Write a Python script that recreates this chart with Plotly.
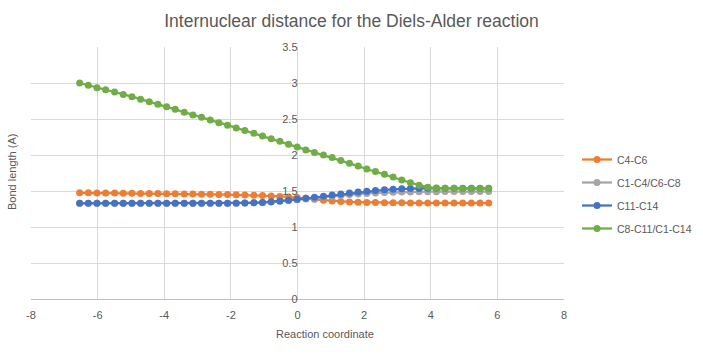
import plotly.graph_objects as go

reaction_coord = [-6.54, -6.28, -6.02, -5.76, -5.49, -5.23, -4.97, -4.71, -4.45, -4.19,
                  -3.93, -3.67, -3.40, -3.14, -2.88, -2.62, -2.36, -2.10, -1.84, -1.58,
                  -1.31, -1.05, -0.79, -0.53, -0.27, -0.01, 0.25, 0.51, 0.78, 1.04,
                  1.30, 1.56, 1.82, 2.08, 2.34, 2.61, 2.87, 3.13, 3.39, 3.65,
                  3.91, 4.17, 4.43, 4.70, 4.96, 5.22, 5.48, 5.74]

c4_c6 = [1.475, 1.474, 1.473, 1.472, 1.471, 1.470, 1.469, 1.467, 1.466, 1.465,
         1.463, 1.461, 1.460, 1.458, 1.456, 1.454, 1.452, 1.450, 1.447, 1.444,
         1.440, 1.436, 1.431, 1.425, 1.418, 1.410, 1.398, 1.385, 1.372, 1.362,
         1.354, 1.348, 1.344, 1.341, 1.339, 1.338, 1.337, 1.336, 1.335, 1.335,
         1.334, 1.334, 1.334, 1.333, 1.333, 1.333, 1.332, 1.332]

c1c4_c6c8 = [1.330, 1.330, 1.330, 1.330, 1.330, 1.330, 1.330, 1.330, 1.330, 1.330,
             1.330, 1.330, 1.330, 1.330, 1.330, 1.331, 1.331, 1.331, 1.332, 1.333,
             1.336, 1.340, 1.347, 1.356, 1.367, 1.379, 1.390, 1.402, 1.415, 1.427,
             1.439, 1.450, 1.459, 1.467, 1.473, 1.478, 1.482, 1.485, 1.487, 1.489,
             1.490, 1.491, 1.492, 1.492, 1.493, 1.493, 1.493, 1.493]

c11_c14 = [1.329, 1.329, 1.329, 1.329, 1.329, 1.329, 1.329, 1.329, 1.330, 1.330,
           1.330, 1.330, 1.330, 1.330, 1.330, 1.330, 1.331, 1.331, 1.331, 1.333,
           1.336, 1.342, 1.350, 1.360, 1.372, 1.385, 1.398, 1.412, 1.428, 1.443,
           1.458, 1.472, 1.485, 1.497, 1.508, 1.517, 1.524, 1.530, 1.534, 1.536,
           1.537, 1.538, 1.538, 1.538, 1.538, 1.538, 1.538, 1.538]

c8c11_c1c14 = [3.000, 2.970, 2.935, 2.905, 2.875, 2.840, 2.810, 2.775, 2.740, 2.705,
               2.670, 2.635, 2.595, 2.557, 2.523, 2.486, 2.449, 2.414, 2.376, 2.339,
               2.301, 2.264, 2.227, 2.190, 2.151, 2.110, 2.070, 2.035, 2.000, 1.965,
               1.922, 1.884, 1.846, 1.805, 1.770, 1.732, 1.695, 1.653, 1.615, 1.580,
               1.553, 1.540, 1.537, 1.537, 1.536, 1.536, 1.536, 1.536]

series_names = ["C4-C6", "C1-C4/C6-C8", "C11-C14", "C8-C11/C1-C14"]
series_values = [c4_c6, c1c4_c6c8, c11_c14, c8c11_c1c14]
series_colors = ["#ED7D31", "#A5A5A5", "#4472C4", "#70AD47"]

x_ticks = [-8, -6, -4, -2, 0, 2, 4, 6, 8]
x_tick_labels = ["-8", "-6", "-4", "-2", "0", "2", "4", "6", "8"]
y_ticks = [0, 0.5, 1, 1.5, 2, 2.5, 3, 3.5]
y_tick_labels = ["0", "0.5", "1", "1.5", "2", "2.5", "3", "3.5"]

FONT = "Liberation Sans"
TXT = "#595959"

fig = go.Figure()
for name, vals, col in zip(series_names, series_values, series_colors):
    fig.add_trace(go.Scatter(
        x=reaction_coord, y=vals, name=name, mode="lines+markers",
        line=dict(color=col, width=2.25),
        marker=dict(color=col, size=7, symbol="circle"),
        legendgroup=name,
    ))

W, H = 703, 354
ml, mr, mt, mb = 31, 139, 47, 55
pw = W - ml - mr
ph = H - mt - mb

fig.update_layout(
    width=W, height=H,
    margin=dict(l=ml, r=mr, t=mt, b=mb, autoexpand=False),
    paper_bgcolor="white", plot_bgcolor="white",
    font=dict(family=FONT, color=TXT, size=11),
    title=dict(text="Internuclear distance for the Diels-Alder reaction",
               x=0.5, xref="container", xanchor="center", y=1 - 21 / H, yanchor="middle",
               font=dict(family=FONT, size=17.5, color=TXT)),
    xaxis=dict(range=[-8, 8], tickvals=x_ticks, ticktext=x_tick_labels,
               showgrid=True, gridcolor="#D9D9D9",
               gridwidth=1, zeroline=False, showline=True, linecolor="#BFBFBF",
               ticks="", ticklabelstandoff=6, tickfont=dict(size=11, color=TXT), domain=[0, 1]),
    yaxis=dict(range=[0, 3.5], tickvals=y_ticks, ticktext=y_tick_labels,
               showgrid=True, gridcolor="#D9D9D9", gridwidth=1, zeroline=False,
               showline=False, ticks="", anchor="free", position=0.5,
               tickfont=dict(size=11, color=TXT)),
    legend=dict(x=(577 - ml) / pw, xanchor="left", y=1 - (145 - mt) / ph, yanchor="top",
                traceorder="grouped", tracegroupgap=4,
                font=dict(size=10.5, color=TXT), bgcolor="rgba(0,0,0,0)"),
    showlegend=True,
)

fig.add_annotation(text="Reaction coordinate", xref="paper", yref="paper",
                   x=(325 - ml) / pw, y=-(334 - mt - ph) / ph, showarrow=False,
                   xanchor="center", yanchor="middle", font=dict(size=11, color=TXT))
fig.add_annotation(text="Bond length (A)", xref="paper", yref="paper",
                   x=-(ml - 12) / pw, y=1 - (172 - mt) / ph, showarrow=False,
                   textangle=-90, xanchor="center", yanchor="middle",
                   font=dict(size=11, color=TXT))

fig.write_html("out.html")
